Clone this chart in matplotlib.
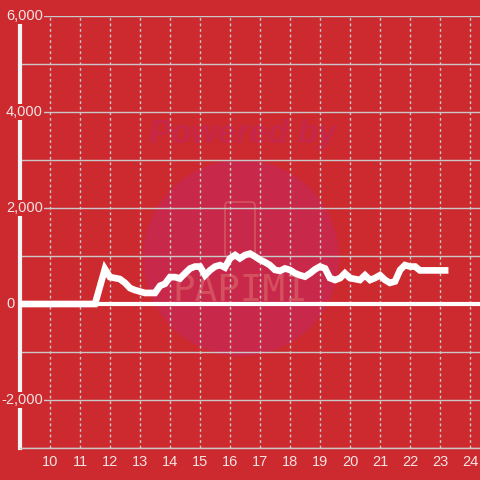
import matplotlib.pyplot as plt
from matplotlib.patches import Circle, FancyBboxPatch
from matplotlib.ticker import FuncFormatter

# hours of day and power values
hours = [9.0, 11.5, 11.83, 12.0, 12.17, 12.33, 12.5, 12.67, 12.83, 13.0, 13.17, 13.33,
         13.5, 13.67, 13.83, 14.0, 14.17, 14.33, 14.5, 14.67, 14.83, 15.0, 15.17, 15.33,
         15.5, 15.67, 15.83, 16.0, 16.17, 16.33, 16.5, 16.67, 16.83, 17.0, 17.17, 17.33,
         17.5, 17.67, 17.83, 18.0, 18.17, 18.33, 18.5, 18.67, 18.83, 19.0, 19.17, 19.33,
         19.5, 19.67, 19.83, 20.0, 20.17, 20.33, 20.5, 20.67, 20.83, 21.0, 21.17, 21.33,
         21.5, 21.67, 21.83, 22.0, 22.17, 22.33, 22.5, 22.67, 22.83, 23.0, 23.17]
values = [0, 0, 730, 560, 540, 520, 440, 330, 290, 260, 230, 230,
          230, 380, 420, 560, 560, 530, 640, 740, 780, 780, 600, 700,
          780, 810, 760, 950, 1020, 950, 1020, 1050, 990, 920, 870, 810,
          710, 690, 740, 710, 640, 600, 570, 640, 720, 780, 740, 540,
          500, 540, 640, 540, 520, 500, 600, 500, 540, 600, 500, 440,
          470, 710, 810, 780, 780, 700, 700, 700, 700, 700, 700]

x_ticks = list(range(10, 25))
y_labels = [-2000, 0, 2000, 4000, 6000]

bg = '#cc2a2f'
grid_c = '#c9c9c9'
text_c = '#f6e3e3'
mark_c = '#c8284a'

plt.rcParams['font.family'] = ['Liberation Sans', 'DejaVu Sans']

fig = plt.figure(figsize=(4.8, 4.8), dpi=100, facecolor=bg)
ax = fig.add_axes([20 / 480, 32 / 480, 460 / 480, 432 / 480])
ax.set_facecolor('none')

ax.set_xlim(9, 9 + 460 / 30)
ax.set_ylim(-3000, 6000)


def px(x, y):
    # pixel position (from top left) -> figure fraction
    return x / 480, 1 - y / 480


# "Powered by" watermark behind the axes
fig.patches.append(Circle(px(241, 258), 98 / 480, transform=fig.transFigure,
                          facecolor=mark_c, edgecolor='none', zorder=-2))
fig.patches.append(FancyBboxPatch(px(225, 257), 30 / 480, 55 / 480,
                                  boxstyle='round,pad=0,rounding_size=0.008',
                                  transform=fig.transFigure, facecolor='none',
                                  edgecolor='#d4505f', linewidth=1.3, zorder=-1))
fig.text(*px(243, 135), 'Powered by', ha='center', va='center', fontsize=24,
         fontweight='bold', style='italic', color='#c72748', zorder=-1)
fig.text(*px(240, 291), 'PAPIMI', ha='center', va='center', fontsize=27,
         family='DejaVu Sans Mono', color='#d4505f', zorder=-1)

ax.set_xticks(x_ticks)
ax.set_yticks(range(-3000, 6001, 1000))
ax.set_yticklabels([])
ax.tick_params(axis='both', length=0)
ax.tick_params(axis='x', colors=text_c, labelsize=10.5, pad=5)
ax.grid(axis='y', color=grid_c, linewidth=1, zorder=1)
ax.grid(axis='x', color=grid_c, linewidth=1, linestyle=(0, (2, 2)), zorder=1)
ax.set_axisbelow(True)

for side in ['top', 'right']:
    ax.spines[side].set_visible(False)
ax.spines['bottom'].set_color(grid_c)
ax.spines['bottom'].set_linewidth(1)
ax.spines['left'].set_color('#f4f4f4')
ax.spines['left'].set_linewidth(3)

ax.axhline(0, color='white', linewidth=3, zorder=2)
ax.plot(hours, values, color='white', linewidth=4.8, solid_joinstyle='miter', zorder=3)

fmt = FuncFormatter(lambda v, p: f'{int(v):,}')
for v in y_labels:
    right_px = 15 if v == 0 else 43
    ax.text((right_px - 20) / 460, v, fmt(v), transform=ax.get_yaxis_transform(),
            ha='right', va='center', fontsize=10.5, color=text_c, zorder=5, clip_on=False,
            bbox=dict(facecolor=bg, edgecolor='none', pad=1))

fig.savefig('out.png', dpi=100, facecolor=bg)
